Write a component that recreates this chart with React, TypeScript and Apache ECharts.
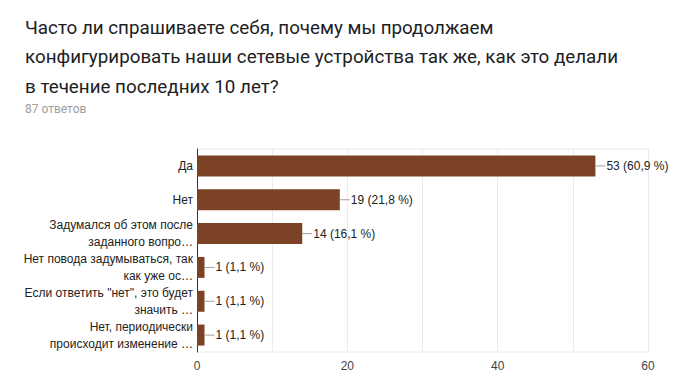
import React, { useEffect, useRef } from "react";
import * as echarts from "echarts";

const categories = [
  "Да",
  "Нет",
  "Задумался об этом после\nзаданного вопро…",
  "Нет повода задумываться, так\nкак уже ос…",
  "Если ответить \"нет\", это будет\nзначить …",
  "Нет, периодически\nпроисходит изменение …",
];
const values = [53, 19, 14, 1, 1, 1];
const percents = ["60,9", "21,8", "16,1", "1,1", "1,1", "1,1"];
const xTicks = [0, 20, 40, 60];

const title = "Часто ли спрашиваете себя, почему мы продолжаем\nконфигурировать наши сетевые устройства так же, как это делали\nв течение последних 10 лет?";
const subtitle = "87 ответов";

export default function App() {
  const ref = useRef<HTMLDivElement>(null);
  useEffect(() => {
    const chart = echarts.init(ref.current!, null, { renderer: "svg" });
    chart.setOption({
      animation: false,
      title: [
        {
          text: title,
          left: 20,
          top: 8,
          textStyle: { fontFamily: "Roboto", fontSize: 18.8, fontWeight: "normal", color: "#202124", lineHeight: 29.5 },
        },
        {
          text: subtitle,
          left: 20,
          top: 98,
          textStyle: { fontFamily: "Roboto", fontSize: 12, fontWeight: "normal", color: "#9e9e9e" },
        },
      ],
      grid: { left: 197, right: 27, top: 149, bottom: 27, containLabel: false },
      xAxis: {
        type: "value",
        min: 0,
        max: 60,
        interval: 10,
        axisLine: { show: false },
        axisTick: { show: false },
        splitLine: { show: true, lineStyle: { color: "#ebebeb", width: 1 } },
        axisLabel: {
          fontFamily: "Liberation Sans",
          fontSize: 12,
          color: "#444",
          margin: 8,
          formatter: (v: number) => (xTicks.includes(v) ? String(v) : ""),
        },
      },
      yAxis: {
        type: "category",
        inverse: true,
        data: categories,
        axisLine: { show: true, lineStyle: { color: "#333", width: 1 } },
        axisTick: { show: false },
        axisLabel: {
          fontFamily: "Liberation Sans",
          fontSize: 12,
          color: "#222",
          lineHeight: 17,
          margin: 4,
          align: "right",
        },
      },
      series: [
        {
          type: "bar",
          data: values,
          barCategoryGap: "38%",
          itemStyle: { color: "#7b4226" },
          label: {
            show: true,
            position: "right",
            distance: 0,
            formatter: (p: any) => `{l|}{t|${p.value} (${percents[p.dataIndex]} %)}`,
            rich: {
              l: { width: 10, height: 1, backgroundColor: "#9e9e9e" },
              t: { fontFamily: "Liberation Sans", fontSize: 12, color: "#222", padding: [0, 0, 0, 1] },
            },
          },
        },
      ],
      graphic: [
        { type: "line", shape: { x1: 197, y1: 149, x2: 648, y2: 149 }, style: { stroke: "#ebebeb", lineWidth: 1 } },
        { type: "line", shape: { x1: 197, y1: 352, x2: 648, y2: 352 }, style: { stroke: "#ebebeb", lineWidth: 1 } },
      ],
    });
    return () => chart.dispose();
  }, []);
  return <div ref={ref} style={{ width: 675, height: 379, position: "absolute", left: 0, top: 0, background: "#fff" }} />;
}
